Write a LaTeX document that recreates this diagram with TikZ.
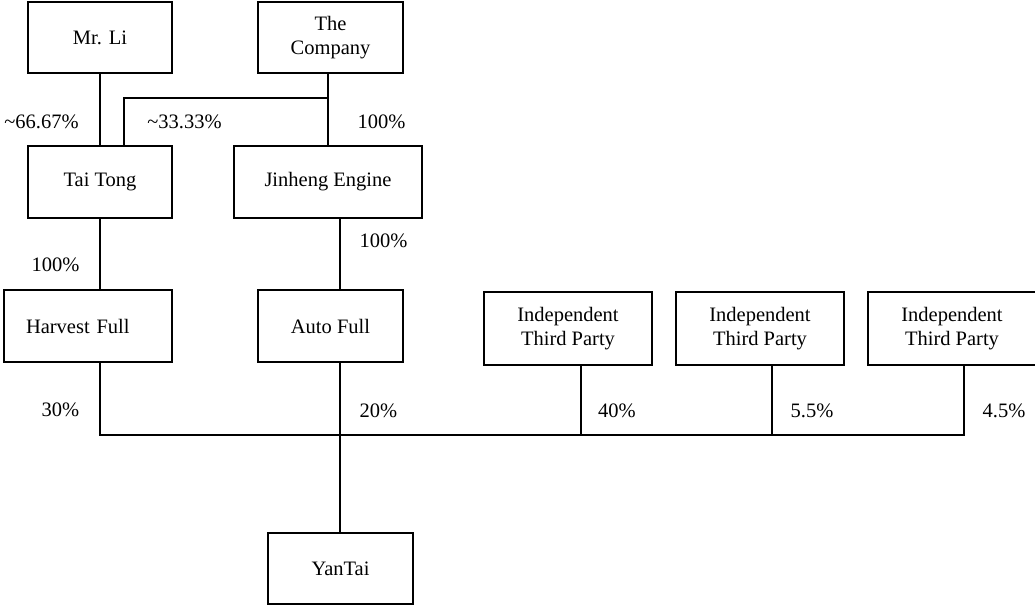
\documentclass[tikz,border=0pt]{standalone}
\usepackage{fontspec}
\setmainfont{Liberation Serif}
\begin{document}
\begin{tikzpicture}[x=1pt,y=-1pt,
  every node/.style={font=\fontsize{20.5}{24.6}\selectfont},
  box/.style={draw, line width=1.3pt, inner sep=0pt, align=center},
  pct/.style={inner sep=0pt},
  link/.style={line width=1.3pt}]
\useasboundingbox (0,0) rectangle (1035,607);
% boxes
\node[box, minimum width=144pt, minimum height=71pt] (mrli) at (100,37.5) {Mr. Li};
\node[box, minimum width=145pt, minimum height=71pt] (company) at (330.5,37.5) {The\\Company};
\node[box, minimum width=144pt, minimum height=72pt] (taitong) at (100,182) {Tai Tong};
\node[box, minimum width=188pt, minimum height=72pt] (jinheng) at (328,182) {Jinheng Engine};
\node[box, minimum width=168pt, minimum height=72pt, text width=124pt, inner xsep=22pt, align=left] (harvest) at (88,326) {Harvest Full};
\node[box, minimum width=145pt, minimum height=72pt] (autofull) at (330.5,326) {Auto Full};
\node[box, minimum width=168pt, minimum height=73pt] (itpa) at (568,328.5) {Independent\\Third Party};
\node[box, minimum width=168pt, minimum height=73pt] (itpb) at (760,328.5) {Independent\\Third Party};
\node[box, minimum width=168pt, minimum height=73pt] (itpc) at (952,328.5) {Independent\\Third Party};
\node[box, minimum width=145pt, minimum height=71pt] (yantai) at (340.5,568.5) {YanTai};
% connectors
\coordinate (split) at (328,98);
\coordinate (bus) at (100,435);
\draw[link] (mrli) -- (taitong);
\draw[link] (jinheng.north) -- (jinheng.north |- company.south);
\draw[link] (jinheng.north |- split) -| ([xshift=24pt]taitong.north);
\draw[link] (taitong.south) -- (taitong.south |- harvest.north);
\draw[link] ([xshift=12pt]jinheng.south) -- ([xshift=12pt]jinheng.south |- autofull.north);
\draw[link] ([xshift=12pt]harvest.south) |- ([xshift=12pt]itpc.south |- bus) -- ([xshift=12pt]itpc.south);
\draw[link] ([xshift=13pt]itpa.south) -- ([xshift=13pt]itpa.south |- bus);
\draw[link] ([xshift=12pt]itpb.south) -- ([xshift=12pt]itpb.south |- bus);
\draw[link] ([xshift=9.5pt]autofull.south) -- ([xshift=9.5pt]autofull.south |- yantai.north);
% labels
\node[pct] (l1) at (41.5,122) {\textasciitilde66.67\%};
\node[pct] (l2) at (184.5,122) {\textasciitilde33.33\%};
\node[pct] (l3) at (381.5,122) {100\%};
\node[pct] (l4) at (55.5,265) {100\%};
\node[pct] (l5) at (383.5,241) {100\%};
\node[pct] (l6) at (60.5,410) {30\%};
\node[pct] (l7) at (378.5,411) {20\%};
\node[pct] (l8) at (617,411) {40\%};
\node[pct] (l9) at (812,411) {5.5\%};
\node[pct] (l10) at (1004,411) {4.5\%};
\end{tikzpicture}
\end{document}
